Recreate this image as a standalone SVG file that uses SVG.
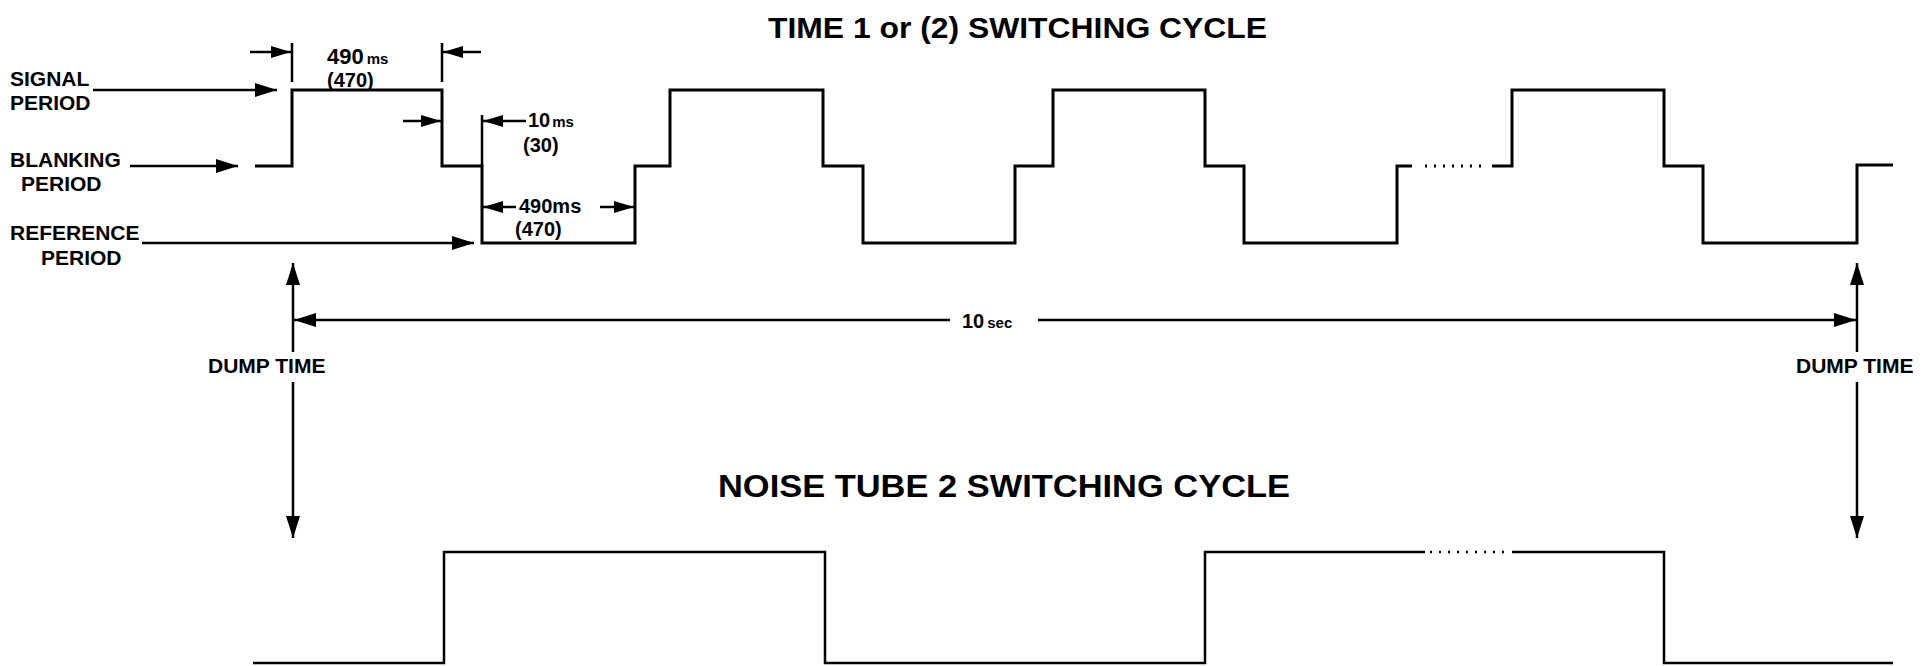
<svg xmlns="http://www.w3.org/2000/svg" width="1932" height="666" viewBox="0 0 1932 666">
<style>
  .t{font-family:"Liberation Sans",Arial,sans-serif;font-weight:bold;fill:#000}
  .lbl{font-size:21px}
  .dim{font-size:20px}
  .big{font-size:22px}
  .sm{font-size:15px}
  .ttl{font-size:29px}
  .wave{fill:none;stroke:#000;stroke-width:3;stroke-linejoin:miter}
  .wave2{fill:none;stroke:#000;stroke-width:2.5}
  .ln{fill:none;stroke:#000;stroke-width:2.5}
  .dot{fill:none;stroke:#000;stroke-width:3;stroke-dasharray:2 7}
</style>
<defs>
  <marker id="ah" markerUnits="userSpaceOnUse" markerWidth="22" markerHeight="14" refX="22" refY="7" orient="auto">
    <path d="M0,0 L22,7 L0,14 z" fill="#000"/>
  </marker>
  <marker id="ahs" markerUnits="userSpaceOnUse" markerWidth="20" markerHeight="12" refX="20" refY="6" orient="auto">
    <path d="M0,0 L20,6 L0,12 z" fill="#000"/>
  </marker>
</defs>

<g id="title1"><text class="t ttl" x="768" y="38" textLength="499" lengthAdjust="spacingAndGlyphs">TIME 1 or (2) SWITCHING CYCLE</text></g>
<g id="title2"><text class="t ttl" x="718" y="497" textLength="572" lengthAdjust="spacingAndGlyphs" style="font-size:31px">NOISE TUBE 2 SWITCHING CYCLE</text></g>

<g id="label-signal">
  <text class="t lbl" x="10" y="86">SIGNAL</text>
  <text class="t lbl" x="10" y="110">PERIOD</text>
</g>
<g id="label-blanking">
  <text class="t lbl" x="10" y="167">BLANKING</text>
  <text class="t lbl" x="21" y="191">PERIOD</text>
</g>
<g id="label-reference">
  <text class="t lbl" x="10" y="240">REFERENCE</text>
  <text class="t lbl" x="41" y="265">PERIOD</text>
</g>

<g id="wave-top">
  <polyline class="wave" points="255,166 292,166 292,90 442,90 442,166 482,166 482,243 635,243 635,166 670,166 670,90 823,90 823,166 863,166 863,243 1015,243 1015,166 1053,166 1053,90 1205,90 1205,166 1244,166 1244,243 1397,243 1397,166 1412,166"/>
  <line class="dot" x1="1425" y1="166" x2="1484" y2="166"/>
  <polyline class="wave" points="1492,166 1512,166 1512,90 1664,90 1664,166 1703,166 1703,243 1857,243 1857,165 1893,165"/>
</g>

<g id="wave-bottom">
  <polyline class="wave2" points="253,663 444,663 444,552 825,552 825,663 1205,663 1205,552 1425,552"/>
  <line class="dot" x1="1430" y1="552" x2="1506" y2="552" style="stroke-width:2.5"/>
  <polyline class="wave2" points="1512,552 1664,552 1664,663 1893,663"/>
</g>

<g id="dim-labels">
  <text class="t big" x="327" y="64">490<tspan class="sm" dx="3">ms</tspan></text>
  <text class="t dim" x="327" y="87">(470)</text>
  <text class="t dim" x="528" y="127">10<tspan class="sm" dx="2">ms</tspan></text>
  <text class="t dim" x="523" y="152">(30)</text>
  <text class="t dim" x="519" y="213">490ms</text>
  <text class="t dim" x="515" y="236">(470)</text>
  <text class="t dim" x="962" y="328">10<tspan class="sm" dx="3">sec</tspan></text>
</g>

<g id="dump-left">
  <text class="t lbl" x="208" y="373">DUMP TIME</text>
</g>
<g id="dump-right">
  <text class="t lbl" x="1796" y="373">DUMP TIME</text>
</g>

<g id="connectors">
  <line class="ln" x1="93" y1="90" x2="277" y2="90" marker-end="url(#ah)"/>
  <line class="ln" x1="130" y1="166" x2="238" y2="166" marker-end="url(#ah)"/>
  <line class="ln" x1="142" y1="243" x2="474" y2="243" marker-end="url(#ah)"/>

  <line class="ln" x1="292" y1="43" x2="292" y2="82"/>
  <line class="ln" x1="250" y1="52" x2="291" y2="52" marker-end="url(#ahs)"/>
  <line class="ln" x1="442" y1="43" x2="442" y2="82"/>
  <line class="ln" x1="481" y1="52" x2="443" y2="52" marker-end="url(#ahs)"/>

  <line class="ln" x1="403" y1="121" x2="441" y2="121" marker-end="url(#ahs)"/>
  <line class="ln" x1="482" y1="115" x2="482" y2="166"/>
  <line class="ln" x1="526" y1="121" x2="483" y2="121" marker-end="url(#ahs)"/>

  <line class="ln" x1="516" y1="207" x2="483" y2="207" marker-end="url(#ahs)"/>
  <line class="ln" x1="600" y1="207" x2="634" y2="207" marker-end="url(#ahs)"/>

  <line class="ln" x1="950" y1="320" x2="294" y2="320" marker-end="url(#ah)"/>
  <line class="ln" x1="1038" y1="320" x2="1856" y2="320" marker-end="url(#ah)"/>

  <line class="ln" x1="293" y1="352" x2="293" y2="263" marker-end="url(#ah)"/>
  <line class="ln" x1="293" y1="382" x2="293" y2="538" marker-end="url(#ah)"/>
  <line class="ln" x1="1857" y1="352" x2="1857" y2="263" marker-end="url(#ah)"/>
  <line class="ln" x1="1857" y1="382" x2="1857" y2="538" marker-end="url(#ah)"/>
</g>
</svg>
